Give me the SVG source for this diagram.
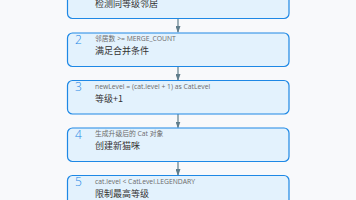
<svg xmlns="http://www.w3.org/2000/svg" width="356" height="200" viewBox="0 0 356 200">
<style>
.box{fill:#e3f2fd;stroke:#1e88e5;stroke-width:1.2}
.num{font-family:"Open Sans","Noto Sans CJK SC",sans-serif;font-size:12px;fill:#1e88e5;font-weight:300}
.sub{font-family:"Open Sans","Noto Sans CJK SC",sans-serif;font-size:6.8px;fill:#6b6b6b}
.main{font-family:"Noto Sans CJK SC",sans-serif;font-size:9px;fill:#333}
.conn{stroke:#607d8b;stroke-width:1.2;fill:none}
</style>
<defs>
<marker id="ah" markerWidth="7" markerHeight="5" refX="6" refY="2.5" orient="auto" markerUnits="userSpaceOnUse">
<path d="M0,0 L7,2.5 L0,5 Z" fill="#607d8b"/>
</marker>
</defs>
<rect width="356" height="200" fill="#f8f9fb"/>
<g id="connectors">
<line class="conn" x1="178" y1="18.5" x2="178" y2="32" marker-end="url(#ah)"/>
<line class="conn" x1="178" y1="66.5" x2="178" y2="80" marker-end="url(#ah)"/>
<line class="conn" x1="178" y1="114" x2="178" y2="127.5" marker-end="url(#ah)"/>
<line class="conn" x1="178" y1="161.5" x2="178" y2="175" marker-end="url(#ah)"/>
</g>
<g id="node1">
<rect class="box" x="67.5" y="-15" width="221.5" height="33.5" rx="5"/>
<text class="main" x="95" y="6.5">检测同等级邻居</text>
</g>
<g id="node2">
<rect class="box" x="67.5" y="33" width="221.5" height="33.5" rx="5"/>
<text class="num" x="75" y="43.5">2</text>
<text class="sub" x="95" y="41">邻居数 &gt;= MERGE_COUNT</text>
<text class="main" x="95" y="54">满足合并条件</text>
</g>
<g id="node3">
<rect class="box" x="67.5" y="80.5" width="221.5" height="33.5" rx="5"/>
<text class="num" x="75" y="91">3</text>
<text class="sub" x="95" y="88.5">newLevel = (cat.level + 1) as CatLevel</text>
<text class="main" x="95" y="101.5">等级+1</text>
</g>
<g id="node4">
<rect class="box" x="67.5" y="128" width="221.5" height="33.5" rx="5"/>
<text class="num" x="75" y="138.5">4</text>
<text class="sub" x="95" y="136">生成升级后的 Cat 对象</text>
<text class="main" x="95" y="149">创建新猫咪</text>
</g>
<g id="node5">
<rect class="box" x="67.5" y="175.5" width="221.5" height="33.5" rx="5"/>
<text class="num" x="75" y="186">5</text>
<text class="sub" x="95" y="183.5">cat.level &lt; CatLevel.LEGENDARY</text>
<text class="main" x="95" y="196.5">限制最高等级</text>
</g>
</svg>
